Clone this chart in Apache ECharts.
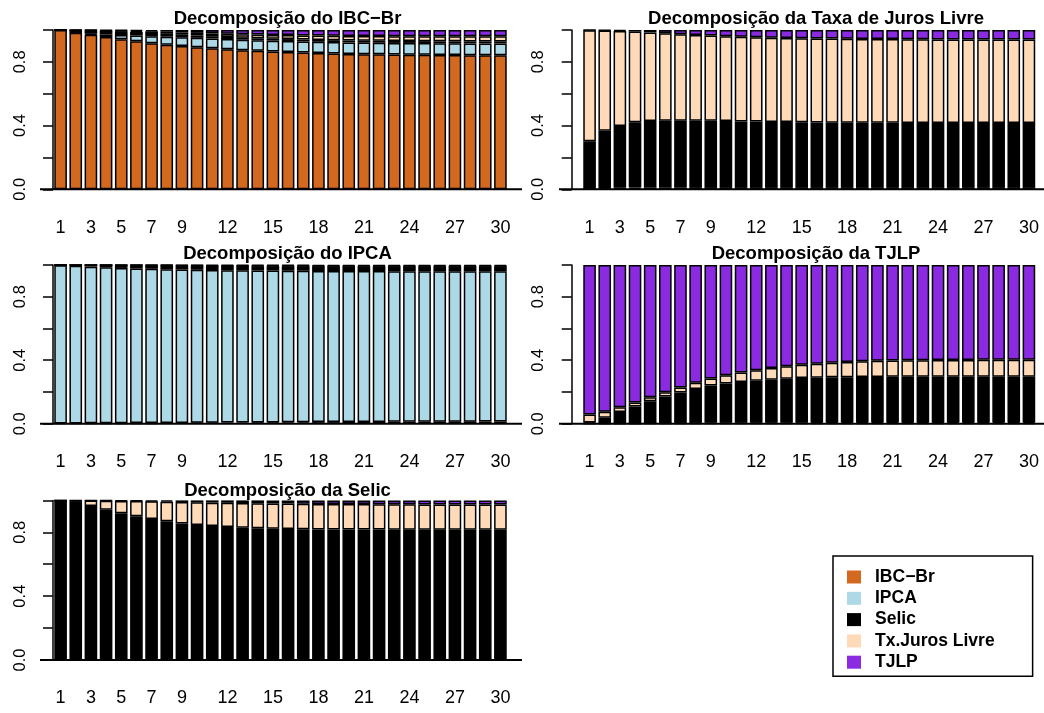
<!DOCTYPE html>
<html>
<head>
<meta charset="utf-8">
<script src="https://cdn.jsdelivr.net/npm/echarts@6/dist/echarts.min.js"></script>
<style>
html,body{margin:0;padding:0;background:#fff;}
#chart{width:1044px;height:713px;}
</style>
</head>
<body>
<div id="chart"></div>
<script>
// ---------------- DATA ----------------
const categories = ['1','2','3','4','5','6','7','8','9','10','11','12','13','14','15','16','17','18','19','20','21','22','23','24','25','26','27','28','29','30'];
const xTickLabels = ['1','3','5','7','9','12','15','18','21','24','27','30'];
const yTickLabels = ['0.0','0.4','0.8'];
const seriesNames = ['IBC−Br','IPCA','Selic','Tx.Juros Livre','TJLP'];
const panelTitles = ['Decomposição do IBC−Br','Decomposição da Taxa de Juros Livre','Decomposição do IPCA','Decomposição da TJLP','Decomposição da Selic'];

// Panel 1: decomposition of IBC-Br
const ibc_IBC   = [1.000,0.983,0.970,0.956,0.942,0.929,0.917,0.908,0.899,0.892,0.885,0.879,0.873,0.869,0.865,0.862,0.858,0.855,0.852,0.850,0.848,0.847,0.846,0.845,0.844,0.843,0.843,0.842,0.842,0.842];
const ibc_IPCA  = [0.000,0.002,0.006,0.016,0.027,0.036,0.044,0.050,0.055,0.059,0.062,0.064,0.066,0.067,0.068,0.069,0.070,0.071,0.072,0.072,0.073,0.073,0.073,0.074,0.074,0.074,0.074,0.074,0.074,0.074];
const ibc_Selic = [0.000,0.013,0.020,0.022,0.023,0.022,0.020,0.018,0.016,0.015,0.014,0.013,0.013,0.012,0.012,0.012,0.012,0.012,0.012,0.012,0.012,0.012,0.012,0.012,0.012,0.012,0.012,0.012,0.012,0.012];
const ibc_Tx    = [0.000,0.001,0.003,0.004,0.005,0.008,0.011,0.013,0.015,0.016,0.018,0.020,0.022,0.023,0.024,0.025,0.026,0.027,0.028,0.029,0.029,0.030,0.030,0.030,0.031,0.031,0.031,0.032,0.032,0.032];
const ibc_TJLP  = [0.000,0.001,0.001,0.002,0.003,0.005,0.008,0.011,0.015,0.018,0.021,0.024,0.026,0.029,0.031,0.032,0.034,0.035,0.036,0.037,0.038,0.038,0.039,0.039,0.039,0.040,0.040,0.040,0.040,0.040];

// Panel 2: decomposition of Taxa de Juros Livre
const tx_IBC   = [0.002,0.002,0.002,0.002,0.002,0.002,0.002,0.002,0.002,0.002,0.002,0.002,0.002,0.002,0.002,0.002,0.002,0.002,0.002,0.002,0.002,0.002,0.002,0.002,0.002,0.002,0.002,0.002,0.002,0.002];
const tx_IPCA  = [0.001,0.004,0.007,0.009,0.010,0.011,0.011,0.012,0.012,0.012,0.012,0.012,0.012,0.012,0.012,0.012,0.012,0.012,0.012,0.012,0.012,0.012,0.012,0.012,0.012,0.012,0.012,0.012,0.012,0.012];
const tx_Selic = [0.299,0.361,0.389,0.410,0.416,0.417,0.418,0.416,0.416,0.414,0.412,0.411,0.409,0.408,0.407,0.405,0.404,0.404,0.403,0.403,0.403,0.402,0.402,0.402,0.402,0.402,0.402,0.402,0.402,0.402];
const tx_Tx    = [0.697,0.630,0.596,0.569,0.557,0.549,0.543,0.539,0.535,0.532,0.531,0.530,0.529,0.528,0.527,0.528,0.528,0.527,0.527,0.526,0.526,0.526,0.526,0.525,0.525,0.525,0.524,0.524,0.524,0.524];
const tx_TJLP  = [0.001,0.003,0.006,0.010,0.015,0.021,0.026,0.031,0.035,0.040,0.043,0.045,0.048,0.050,0.052,0.053,0.054,0.055,0.056,0.057,0.057,0.058,0.058,0.059,0.059,0.059,0.060,0.060,0.060,0.060];

// Panel 3: decomposition of IPCA
const ip_IBC   = [0.002,0.002,0.003,0.003,0.003,0.004,0.004,0.005,0.005,0.006,0.006,0.007,0.007,0.008,0.008,0.009,0.009,0.010,0.010,0.011,0.011,0.011,0.012,0.012,0.012,0.013,0.013,0.013,0.014,0.014];
const ip_IPCA  = [0.996,0.992,0.986,0.982,0.978,0.974,0.971,0.968,0.966,0.963,0.962,0.960,0.959,0.957,0.956,0.954,0.954,0.952,0.952,0.950,0.950,0.950,0.948,0.948,0.948,0.947,0.947,0.947,0.946,0.946];
const ip_Selic = [0.002,0.006,0.010,0.014,0.017,0.019,0.021,0.023,0.024,0.026,0.025,0.026,0.027,0.027,0.028,0.029,0.029,0.029,0.029,0.030,0.030,0.030,0.031,0.031,0.031,0.031,0.031,0.031,0.031,0.031];
const ip_Tx    = [0.000,0.000,0.001,0.001,0.001,0.002,0.002,0.002,0.002,0.002,0.003,0.003,0.003,0.003,0.003,0.003,0.003,0.003,0.003,0.003,0.003,0.003,0.003,0.003,0.003,0.003,0.003,0.003,0.003,0.003];
const ip_TJLP  = [0.000,0.000,0.000,0.000,0.001,0.001,0.002,0.002,0.003,0.003,0.004,0.004,0.004,0.005,0.005,0.005,0.005,0.006,0.006,0.006,0.006,0.006,0.006,0.006,0.006,0.006,0.006,0.006,0.006,0.006];

// Panel 4: decomposition of TJLP
const tj_IBC   = [0.001,0.001,0.001,0.001,0.001,0.001,0.002,0.002,0.002,0.002,0.002,0.002,0.002,0.002,0.002,0.002,0.002,0.002,0.002,0.002,0.002,0.002,0.002,0.002,0.002,0.002,0.002,0.002,0.002,0.002];
const tj_IPCA  = [0.001,0.001,0.002,0.002,0.003,0.003,0.004,0.004,0.005,0.005,0.005,0.006,0.006,0.006,0.006,0.007,0.007,0.007,0.007,0.007,0.007,0.007,0.007,0.007,0.007,0.007,0.007,0.007,0.007,0.007];
const tj_Selic = [0.006,0.036,0.070,0.105,0.138,0.167,0.191,0.213,0.233,0.246,0.255,0.263,0.269,0.275,0.279,0.281,0.283,0.284,0.285,0.285,0.286,0.286,0.286,0.286,0.286,0.286,0.286,0.286,0.286,0.286];
const tj_Tx    = [0.050,0.038,0.030,0.025,0.024,0.027,0.031,0.039,0.044,0.052,0.060,0.066,0.073,0.079,0.084,0.088,0.092,0.096,0.099,0.102,0.103,0.104,0.105,0.106,0.106,0.106,0.107,0.107,0.107,0.107];
const tj_TJLP  = [0.942,0.924,0.897,0.867,0.834,0.802,0.772,0.742,0.716,0.695,0.678,0.663,0.650,0.638,0.629,0.622,0.616,0.611,0.607,0.604,0.602,0.601,0.600,0.599,0.599,0.599,0.598,0.598,0.598,0.598];

// Panel 5: decomposition of Selic
const se_IBC   = [0.000,0.000,0.000,0.000,0.000,0.000,0.000,0.000,0.000,0.000,0.000,0.000,0.000,0.000,0.000,0.000,0.000,0.000,0.000,0.000,0.000,0.000,0.000,0.000,0.000,0.000,0.000,0.000,0.000,0.000];
const se_IPCA  = [0.000,0.001,0.001,0.001,0.002,0.002,0.002,0.002,0.002,0.002,0.002,0.002,0.002,0.002,0.002,0.002,0.002,0.002,0.002,0.002,0.002,0.002,0.002,0.002,0.002,0.002,0.002,0.002,0.002,0.002];
const se_Selic = [1.000,0.993,0.964,0.941,0.917,0.898,0.881,0.867,0.854,0.844,0.838,0.831,0.827,0.823,0.821,0.819,0.817,0.816,0.816,0.815,0.815,0.815,0.814,0.814,0.814,0.814,0.814,0.814,0.814,0.814];
const se_Tx    = [0.000,0.006,0.034,0.056,0.078,0.096,0.111,0.123,0.134,0.142,0.146,0.152,0.154,0.157,0.158,0.159,0.160,0.160,0.160,0.160,0.160,0.159,0.160,0.160,0.159,0.159,0.159,0.159,0.159,0.159];
const se_TJLP  = [0.000,0.000,0.001,0.002,0.003,0.004,0.006,0.008,0.010,0.012,0.014,0.015,0.017,0.018,0.019,0.020,0.021,0.022,0.022,0.023,0.023,0.024,0.024,0.024,0.025,0.025,0.025,0.025,0.025,0.025];

const panelData = [
  [ibc_IBC, ibc_IPCA, ibc_Selic, ibc_Tx, ibc_TJLP],
  [tx_IBC, tx_IPCA, tx_Selic, tx_Tx, tx_TJLP],
  [ip_IBC, ip_IPCA, ip_Selic, ip_Tx, ip_TJLP],
  [tj_IBC, tj_IPCA, tj_Selic, tj_Tx, tj_TJLP],
  [se_IBC, se_IPCA, se_Selic, se_Tx, se_TJLP]
];

// ---------------- STYLE / LAYOUT ----------------
const colors = ['#D2691E','#ADD8E6','#000000','#FFDAB9','#8A2BE2'];
const FONT = "'Liberation Sans', Arial, Helvetica, sans-serif";
const layout = [
  {left:53,  top:30,    width:455,   height:159.3, yOffset:0,    titleX:287.5, titleTop:9.8,   lineX0:40,  lineX1:522},
  {left:582, top:30,    width:454.5, height:159.3, yOffset:10.3, titleX:816,   titleTop:9.8,   lineX0:559, lineX1:1044},
  {left:53,  top:264.9, width:455,   height:158.8, yOffset:0,    titleX:287.5, titleTop:244.3, lineX0:40,  lineX1:522},
  {left:582, top:264.9, width:454.5, height:158.8, yOffset:10.3, titleX:816,   titleTop:244.3, lineX0:559, lineX1:1044},
  {left:53,  top:500.4, width:455,   height:159.6, yOffset:0,    titleX:287.5, titleTop:481.5, lineX0:40,  lineX1:522}
];

const chart = echarts.init(document.getElementById('chart'), null, {renderer:'canvas'});

const option = {
  animation: false,
  backgroundColor: '#ffffff',
  title: layout.map((l, i) => ({
    text: panelTitles[i],
    left: l.titleX, top: l.titleTop, textAlign: 'center', padding: 0,
    textStyle: {fontSize: 18.5, fontWeight: 'bold', fontFamily: FONT, color: '#000'}
  })),
  legend: {
    orient: 'vertical', left: 833, top: 556,
    data: seriesNames,
    icon: 'rect', itemWidth: 14, itemHeight: 13, itemGap: 3.3,
    padding: [12, 38, 5, 14],
    borderColor: '#000', borderWidth: 1.5, backgroundColor: '#fff', borderRadius: 0,
    itemStyle: {borderWidth: 0},
    selectedMode: false,
    textStyle: {fontSize: 17.5, fontWeight: 'bold', fontFamily: FONT, color: '#000', lineHeight: 17.5, padding: [0, 0, 0, 9]}
  },
  grid: layout.map(l => ({left: l.left, top: l.top, width: l.width, height: l.height, containLabel: false, outerBoundsMode: 'none'})),
  xAxis: layout.map((l, i) => ({
    gridIndex: i, type: 'category', data: categories,
    axisLine: {show: false}, axisTick: {show: false}, splitLine: {show: false},
    axisLabel: {
      interval: (idx, val) => xTickLabels.indexOf(val) >= 0,
      margin: 29.5, fontSize: 18, fontFamily: FONT, color: '#000'
    }
  })),
  yAxis: layout.map((l, i) => ({
    gridIndex: i, type: 'value', min: 0, max: 1, interval: 0.2, offset: l.yOffset,
    axisLine: {show: true, lineStyle: {color: '#000', width: 1.5}},
    axisTick: {show: true, length: 10, lineStyle: {color: '#000', width: 1.5}},
    splitLine: {show: false},
    axisLabel: {
      rotate: 90, margin: 24.5, fontSize: 16.5, fontFamily: FONT, color: '#000',
      formatter: v => { const s = v.toFixed(1); return yTickLabels.indexOf(s) >= 0 ? s : ''; }
    }
  })),
  series: []
};

panelData.forEach((arrs, p) => {
  arrs.forEach((arr, k) => {
    option.series.push({
      name: seriesNames[k], type: 'bar', stack: 'panel' + p,
      xAxisIndex: p, yAxisIndex: p, data: arr,
      barCategoryGap: '16.7%',
      itemStyle: {color: colors[k], borderColor: '#000', borderWidth: 1.5},
      emphasis: {disabled: true}
    });
  });
});

chart.setOption(option);

// baseline line at y = 0 (extends across each panel's plotting region)
const graphics = layout.map((l, i) => {
  const y0 = chart.convertToPixel({yAxisIndex: i}, 0);
  return {type: 'line', z: 100, shape: {x1: l.lineX0, y1: y0, x2: l.lineX1, y2: y0}, style: {stroke: '#000', lineWidth: 2}};
});
chart.setOption({graphic: graphics});
</script>
</body>
</html>
